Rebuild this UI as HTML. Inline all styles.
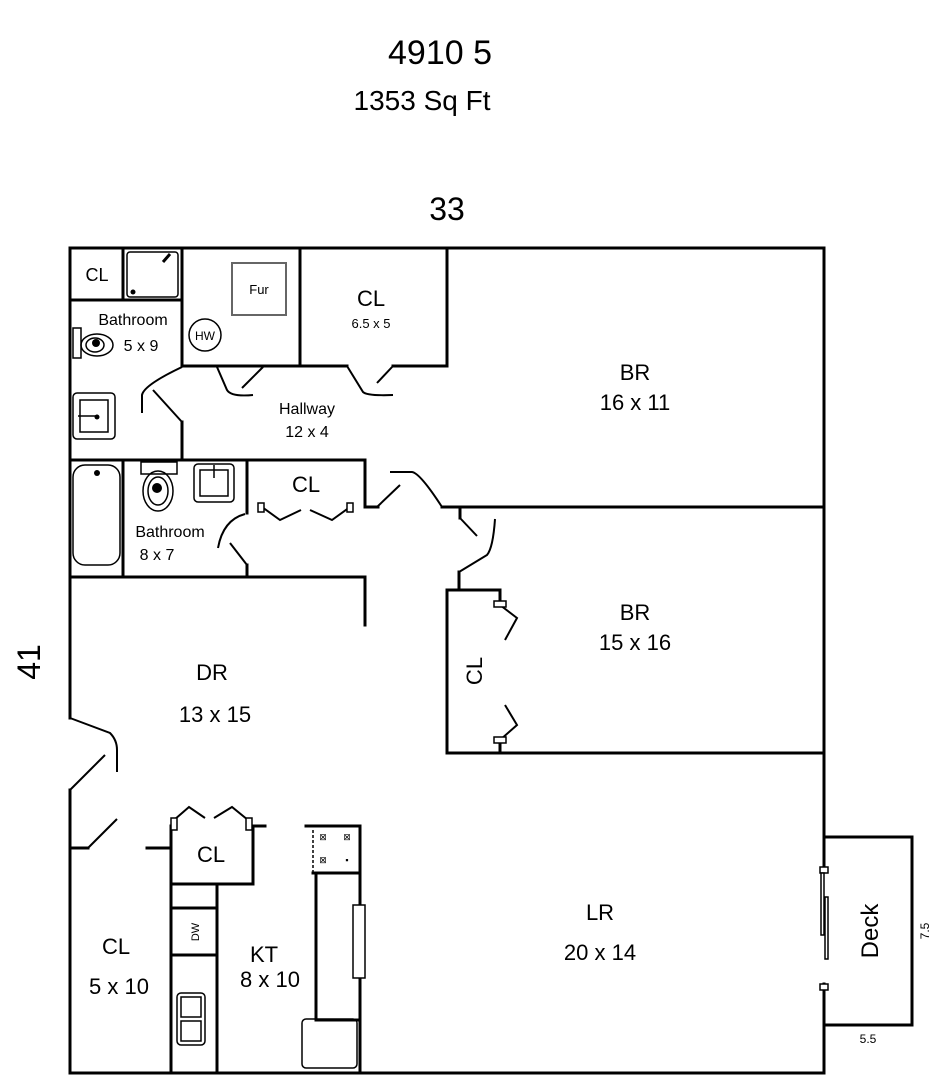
<!DOCTYPE html>
<html><head><style>
html,body{margin:0;padding:0;background:#fff;}
svg{display:block;font-family:"Liberation Sans",Arial,sans-serif;}
</style></head><body>
<svg width="936" height="1080" viewBox="0 0 936 1080" xmlns="http://www.w3.org/2000/svg">
<g fill="#000" text-anchor="middle">
<text x="440" y="64" font-size="34">4910 5</text>
<text x="422" y="110" font-size="28">1353 Sq Ft</text>
<text x="447" y="220" font-size="32">33</text>
<text transform="translate(40,662) rotate(-90)" font-size="32">41</text>
</g>
<g stroke="#000" stroke-width="3" fill="none" stroke-linecap="square">
<!-- outer -->
<path d="M70 248 H824 V870 M824 984 V1073 H70 V790 M70 718 V248"/>
<!-- top left rooms -->
<path d="M70 300 H182 M123 248 V300 M182 248 V366 M182 422 V460"/>
<path d="M182 366 H347 M393 366 H447 V248 M300 248 V366"/>
<!-- hallway bottom -->
<path d="M70 460 H365 V507 H378 M442 507 H824"/>
<path d="M123 460 V577 M247 460 V513 M247 565 V577 M70 577 H365 V625"/>
<!-- BR2 -->
<path d="M460 507 V518 M459 590 V572 M447 753 V590 H500 V600 M500 745 V753 M447 753 H824"/>
<!-- DR/kitchen -->
<path d="M70 848 H88 M147 848 H170 M171 826 V1073 M253 826 V884 H171 M253 826 H265 M217 884 V1073 M171 908 H217 M171 955 H217"/>
<path d="M306 826 H360 V1073 M313 873 H360 M316 873 V1020 H360"/>
<!-- deck -->
<path d="M824 837 H912 V1025 H824"/>
</g>
<g stroke="#000" stroke-width="2" fill="none">
<!-- door swings -->
<path d="M142 413 V395 Q144 385 182 367"/>
<path d="M153 390 L182 422"/>
<path d="M217 367 L227 390 Q231 397 253 395"/>
<path d="M242 388 L263 367"/>
<path d="M347 366 L363 392 Q367 396 393 395"/>
<path d="M377 383 L393 366"/>
<path d="M377 507 L400 485"/>
<path d="M390 472 H412 Q420 473 442 507"/>
<path d="M460 518 L477 536"/>
<path d="M459 572 L487 555 Q493 548 495 519"/>
<path d="M245 514 Q223 520 218 548"/>
<path d="M230 543 L247 565"/>
<path d="M70 718 L110 733 Q117 740 117 750 V772"/>
<path d="M70 790 L105 755"/>
<path d="M88 848 L117 819"/>
<!-- bifolds -->
<path d="M262 507 L280 520 L301 510 M310 510 L332 520 L350 507"/>
<path d="M500 605 L517 618 L505 640 M505 705 L517 725 L500 740"/>
<path d="M174 820 L189 807 L205 818 M214 818 L232 807 L248 820"/>
</g>
<g stroke="#000" stroke-width="1.5" fill="#fff">
<rect x="258" y="503" width="6" height="9"/><rect x="347" y="503" width="6" height="9"/>
<rect x="494" y="601" width="12" height="6"/><rect x="494" y="737" width="12" height="6"/>
<rect x="171" y="818" width="6" height="12"/><rect x="246" y="818" width="6" height="12"/>
<rect x="820" y="867" width="8" height="6"/><rect x="820" y="984" width="8" height="6"/>
<rect x="821" y="873" width="3" height="62"/><rect x="825" y="897" width="3" height="62"/>
<rect x="353" y="905" width="12" height="73"/>
</g>
<!-- fixtures -->
<g stroke="#000" stroke-width="1.5" fill="none">
<rect x="127" y="252" width="51" height="45" rx="3"/>
<path d="M170 254 L163 262" stroke-width="3"/>
<rect x="232" y="263" width="54" height="52" stroke="#666" stroke-width="2"/>
<circle cx="205" cy="335" r="16"/>
<rect x="73" y="328" width="8" height="30"/>
<ellipse cx="97" cy="345" rx="16" ry="11"/><ellipse cx="95" cy="345" rx="9" ry="7"/>
<rect x="73" y="393" width="42" height="46" rx="4"/><rect x="80" y="400" width="28" height="32"/>
<path d="M78 416 H97"/>
<rect x="73" y="465" width="47" height="100" rx="12"/>
<rect x="141" y="462" width="36" height="12"/>
<ellipse cx="158" cy="491" rx="15" ry="20"/><ellipse cx="158" cy="491" rx="10" ry="14"/>
<rect x="194" y="464" width="40" height="38" rx="4"/><rect x="200" y="470" width="28" height="26"/>
<path d="M214 465 V478"/>
<rect x="177" y="993" width="28" height="52" rx="4"/><rect x="181" y="997" width="20" height="20"/><rect x="181" y="1021" width="20" height="20"/>
<path d="M313 830 V873" stroke-dasharray="3 2"/>
<rect x="302" y="1019" width="55" height="49" rx="4"/>
</g>
<g fill="#000">
<circle cx="133" cy="292" r="2.5"/><circle cx="96" cy="343" r="4"/><circle cx="97" cy="417" r="2.5"/>
<circle cx="97" cy="473" r="3"/><circle cx="157" cy="488" r="5"/>
</g>
<g font-size="9" fill="#000" text-anchor="middle">
<text x="323" y="840">⊠</text><text x="347" y="840">⊠</text><text x="323" y="863">⊠</text><text x="347" y="863">▪</text>
</g>
<g fill="#000" text-anchor="middle" font-size="18">
<text x="97" y="281">CL</text>
<text x="259" y="294" font-size="13">Fur</text>
<text x="205" y="340" font-size="12">HW</text>
<text x="133" y="325" font-size="16">Bathroom</text>
<text x="141" y="351" font-size="16">5 x 9</text>
<text x="371" y="306" font-size="22">CL</text>
<text x="371" y="328" font-size="13">6.5 x 5</text>
<text x="307" y="414" font-size="16">Hallway</text>
<text x="307" y="437" font-size="16">12 x 4</text>
<text x="306" y="492" font-size="22">CL</text>
<text x="170" y="537" font-size="16">Bathroom</text>
<text x="157" y="560" font-size="16">8 x 7</text>
<text x="635" y="380" font-size="22">BR</text>
<text x="635" y="410" font-size="22">16 x 11</text>
<text x="635" y="620" font-size="22">BR</text>
<text x="635" y="650" font-size="22">15 x 16</text>
<text transform="translate(482,671) rotate(-90)" font-size="22">CL</text>
<text x="212" y="680" font-size="22">DR</text>
<text x="215" y="722" font-size="22">13 x 15</text>
<text x="211" y="862" font-size="22">CL</text>
<text transform="translate(199,932) rotate(-90)" font-size="11">DW</text>
<text x="116" y="954" font-size="22">CL</text>
<text x="119" y="994" font-size="22">5 x 10</text>
<text x="264" y="962" font-size="22">KT</text>
<text x="270" y="987" font-size="22">8 x 10</text>
<text x="600" y="920" font-size="22">LR</text>
<text x="600" y="960" font-size="22">20 x 14</text>
<text transform="translate(878,931) rotate(-90)" font-size="24">Deck</text>
<text transform="translate(929,931) rotate(-90)" font-size="12">7.5</text>
<text x="868" y="1043" font-size="12">5.5</text>
</g>
</svg>
</body></html>
